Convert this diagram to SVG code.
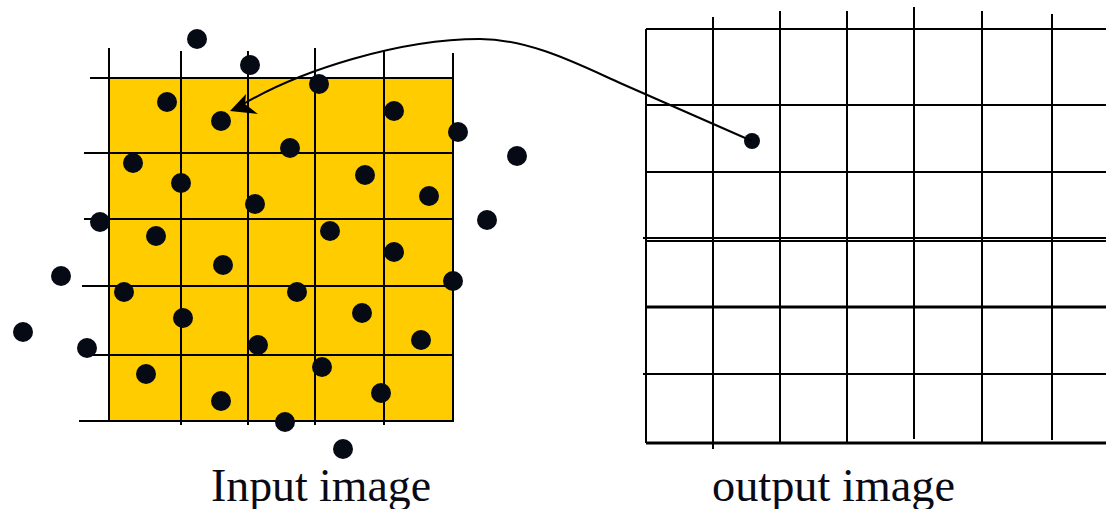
<svg xmlns="http://www.w3.org/2000/svg" width="1106" height="509" viewBox="0 0 1106 509">
<style>
.g{stroke:#000;stroke-width:2;fill:none}
.gt{stroke:#000;stroke-width:3;fill:none}
.dot{fill:#050a14}
.lbl{font-family:"Liberation Serif","Times New Roman",serif;font-size:47px;fill:#0a0a14}
</style>
<rect width="1106" height="509" fill="#fff"/>
<g id="input-image">
<rect x="109" y="78" width="344" height="343" fill="#ffcc00"/>
<path class="g" d="M109,48V422M181,51V425M248,51V425M315,48V425M384,51V425M453,53V422"/>
<path class="g" d="M90,78H453M84,153H453M84,219H453M82,286H453M86,355H453M79,421H453"/>
<g class="dot">
<circle cx="197" cy="39" r="10"/><circle cx="250" cy="65" r="10"/><circle cx="319" cy="84" r="10"/>
<circle cx="167" cy="102" r="10"/><circle cx="221" cy="121" r="10"/><circle cx="394" cy="111" r="10"/>
<circle cx="458" cy="132" r="10"/><circle cx="290" cy="148" r="10"/><circle cx="517" cy="156" r="10"/>
<circle cx="133" cy="163" r="10"/><circle cx="181" cy="183" r="10"/><circle cx="365" cy="175" r="10"/>
<circle cx="429" cy="196" r="10"/><circle cx="255" cy="204" r="10"/><circle cx="100" cy="222" r="10"/>
<circle cx="487" cy="220" r="10"/><circle cx="156" cy="236" r="10"/><circle cx="330" cy="231" r="10"/>
<circle cx="394" cy="252" r="10"/><circle cx="223" cy="265" r="10"/><circle cx="61" cy="276" r="10"/>
<circle cx="453" cy="281" r="10"/><circle cx="124" cy="292" r="10"/><circle cx="297" cy="292" r="10"/>
<circle cx="362" cy="313" r="10"/><circle cx="23" cy="332" r="10"/><circle cx="183" cy="318" r="10"/>
<circle cx="421" cy="340" r="10"/><circle cx="87" cy="348" r="10"/><circle cx="258" cy="345" r="10"/>
<circle cx="322" cy="367" r="10"/><circle cx="146" cy="374" r="10"/><circle cx="381" cy="393" r="10"/>
<circle cx="221" cy="401" r="10"/><circle cx="285" cy="422" r="10"/><circle cx="343" cy="449" r="10"/>
</g>
<text class="lbl" x="211" y="501" textLength="220" lengthAdjust="spacingAndGlyphs">Input image</text>
</g>
<g id="output-image">
<path class="g" d="M646,29V443M713,17V449M780,11V443M847,11V443M914,7V439M982,11V443M1052,14V440"/>
<path class="g" d="M646,29H1106M646,105H1106M646,172H1106M643,238H1106M646,241H1106M643,374H1106"/>
<path class="gt" d="M646,307H1106M646,443H1106"/>
<text class="lbl" x="712" y="501" textLength="243" lengthAdjust="spacingAndGlyphs">output image</text>
</g>
<g id="connectors">
<circle class="dot" cx="752" cy="141" r="8"/>
<path class="g" d="M752,141L620,83C580,65 530,39 480,39C400,39 300,70 240,106"/>
<path d="M230,111L246,94L245,104L258,114Z" fill="#000"/>
</g>
</svg>
